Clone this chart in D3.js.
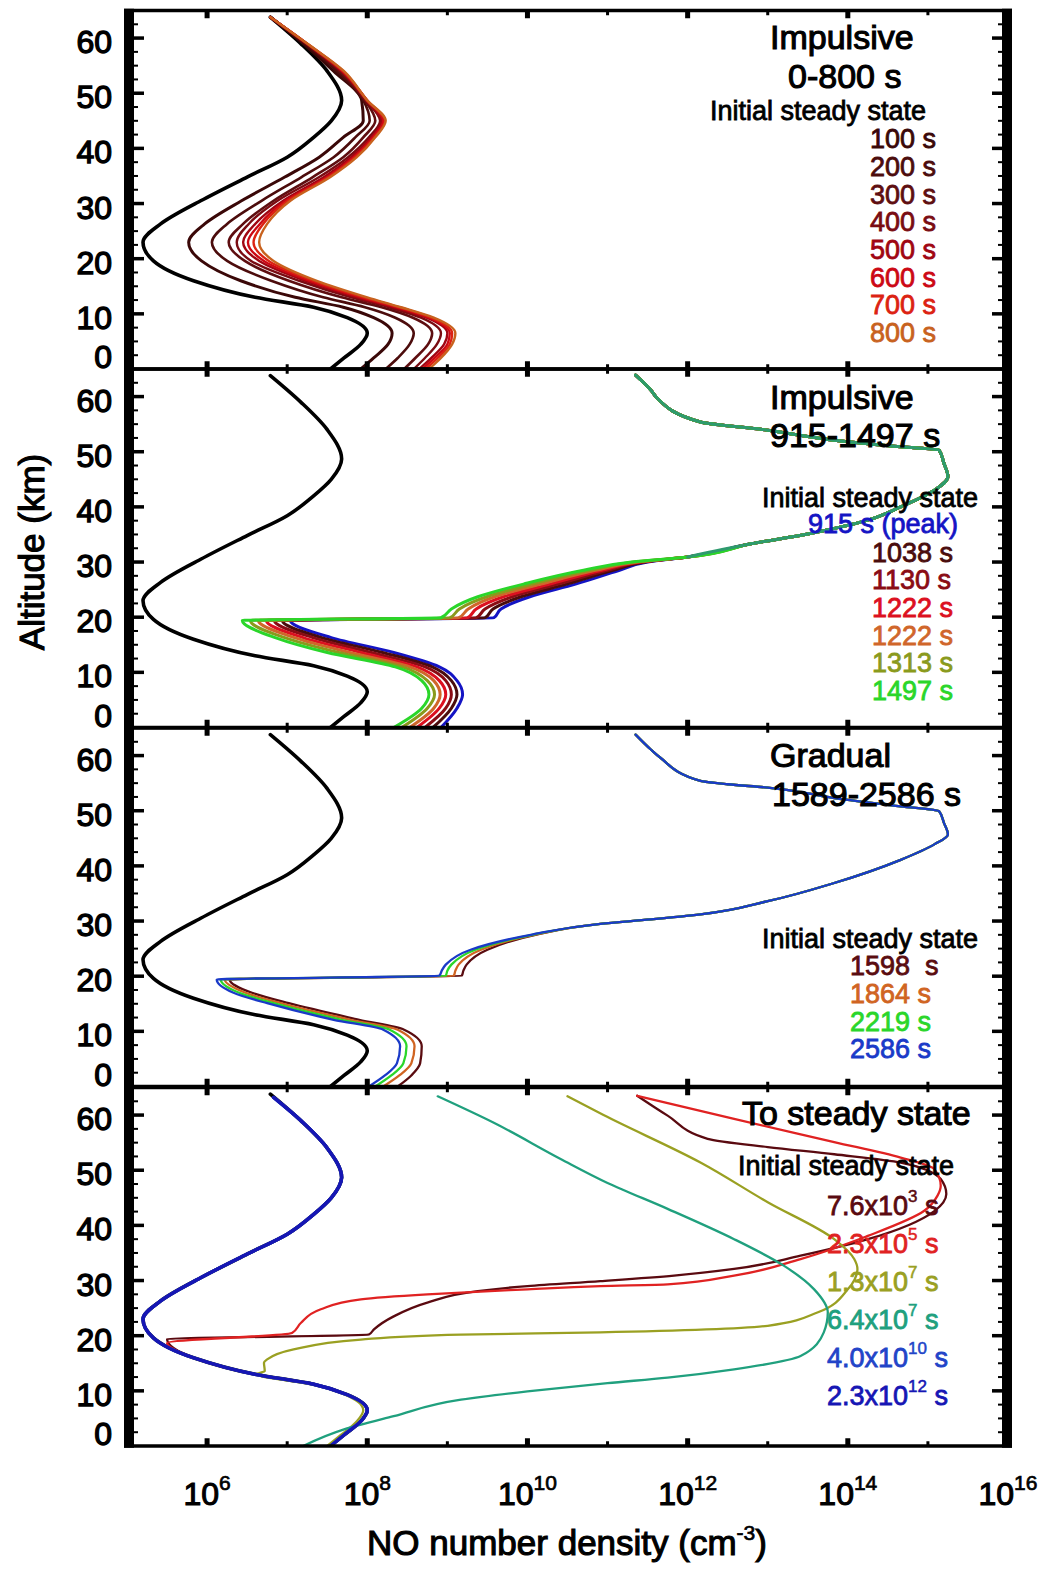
<!DOCTYPE html>
<html>
<head>
<meta charset="utf-8">
<script src="https://cdn.jsdelivr.net/npm/d3@7"></script>
<style>
  body { margin: 0; background: #fff; }
  text { font-family: "Liberation Sans", Arial, Helvetica, sans-serif; white-space: pre; }
</style>
</head>
<body>
<svg id="chart" width="1046" height="1569"></svg>
<script>

//
// data: altitude (km) and log10 of NO number density (cm^-3)
//

const xTickExps = [6, 8, 10, 12, 14, 16]
const yTickLabels = [0, 10, 20, 30, 40, 50, 60]

// initial steady state, same in every panel
const alt1 = [0, 2, 4.5, 6.5, 9.3, 11.2, 13, 16, 19.6, 23, 26.3, 30.5, 34.8, 38.4, 42, 45, 48.7, 54, 59, 63.8]
const initialState = [7.54, 7.71, 7.92, 8.0, 7.75, 7.33, 6.6, 5.83, 5.33, 5.2, 5.42, 5.92, 6.5, 7.0, 7.33, 7.55, 7.68, 7.5, 7.17, 6.79]

// panel 1: impulsive 0-800 s (on alt1)
const p1Labels = ['100 s', '200 s', '300 s', '400 s', '500 s', '600 s', '700 s', '800 s']
const t100 = [7.92, 8.08, 8.26, 8.31, 8.08, 7.7, 7.1, 6.42, 5.93, 5.77, 5.97, 6.43, 6.97, 7.4, 7.7, 7.95, 7.93, 7.58, 7.2, 6.79]
const t200 = [8.23, 8.38, 8.53, 8.58, 8.35, 7.97, 7.45, 6.8, 6.25, 6.06, 6.25, 6.68, 7.18, 7.58, 7.85, 8.03, 7.95, 7.62, 7.22, 6.79]
const t300 = [8.46, 8.6, 8.76, 8.81, 8.57, 8.18, 7.68, 7.02, 6.47, 6.27, 6.45, 6.83, 7.32, 7.7, 7.95, 8.1, 7.97, 7.65, 7.23, 6.79]
const t400 = [8.58, 8.72, 8.87, 8.92, 8.67, 8.27, 7.8, 7.15, 6.55, 6.37, 6.52, 6.88, 7.4, 7.76, 8.02, 8.16, 7.98, 7.67, 7.24, 6.79]
const t500 = [8.65, 8.8, 8.96, 9.0, 8.74, 8.33, 7.87, 7.23, 6.65, 6.45, 6.6, 6.95, 7.46, 7.8, 8.05, 8.18, 7.99, 7.68, 7.24, 6.79]
const t600 = [8.69, 8.84, 9.0, 9.03, 8.77, 8.37, 7.92, 7.28, 6.71, 6.51, 6.66, 6.98, 7.5, 7.83, 8.07, 8.2, 8.0, 7.69, 7.25, 6.79]
const t700 = [8.73, 8.88, 9.03, 9.06, 8.8, 8.4, 7.96, 7.33, 6.77, 6.58, 6.7, 7.01, 7.52, 7.85, 8.09, 8.22, 8.0, 7.7, 7.25, 6.79]
const t800 = [8.77, 8.92, 9.06, 9.1, 8.83, 8.42, 8.0, 7.37, 6.83, 6.65, 6.75, 7.04, 7.54, 7.87, 8.1, 8.23, 8.0, 7.71, 7.25, 6.79]

// panel 2: impulsive 915-1497 s
const p2Labels = ['915 s (peak)', '1038 s', '1130 s', '1222 s', '1222 s', '1313 s', '1497 s']
const p2LowAlt = [0, 3.5, 6, 8.5, 11, 13.6, 16.3, 19.4]
const p2UpAlt = [19.9, 21.5, 23.7, 26, 28.5, 30]
const p2TopAlt = [30.9, 33.3, 35.1, 37.6, 40, 43, 45.5, 47.9, 50.3, 50.9, 52.1, 53.9, 55.4, 59.7, 61.2, 63.9]
const p2TopVal = [12.0, 12.79, 13.5, 14.25, 14.66, 15.08, 15.25, 15.2, 15.14, 14.66, 13.83, 13.0, 12.16, 11.62, 11.54, 11.35]
const p2Low = [
  [8.92, 9.12, 9.19, 9.12, 8.9, 8.33, 7.55, 7.04],
  [8.82, 9.05, 9.12, 9.05, 8.81, 8.19, 7.43, 6.94],
  [8.72, 8.98, 9.05, 8.98, 8.72, 8.05, 7.32, 6.84],
  [8.62, 8.9, 8.98, 8.9, 8.62, 7.92, 7.2, 6.74],
  [8.53, 8.83, 8.91, 8.83, 8.53, 7.78, 7.09, 6.64],
  [8.43, 8.75, 8.84, 8.75, 8.44, 7.64, 6.97, 6.54],
  [8.33, 8.68, 8.77, 8.68, 8.35, 7.5, 6.85, 6.44]
]
const p2Up = [
  [9.58, 9.67, 10.03, 10.6, 11.15, 11.5],
  [9.47, 9.57, 9.92, 10.49, 11.07, 11.47],
  [9.36, 9.47, 9.81, 10.38, 11.0, 11.43],
  [9.25, 9.36, 9.7, 10.28, 10.93, 11.4],
  [9.14, 9.26, 9.59, 10.17, 10.85, 11.37],
  [9.03, 9.15, 9.49, 10.06, 10.78, 11.33],
  [8.92, 9.05, 9.38, 9.95, 10.7, 11.3]
]

// panel 3: gradual 1589-2586 s
const p3Labels = ['1598  s', '1864 s', '2219 s', '2586 s']
const p3LowAlt = [0, 2, 4.2, 7.3, 10.3, 12.1, 15.1, 17, 19.4]
const p3UpAlt = [20.1, 21, 22.1, 24.8, 27.5]
const p3TopAlt = [29.5, 30.3, 31.2, 33.6, 36.9, 41.1, 43.9, 45.7, 47.8, 49.9, 50.8, 52.3, 54.2, 54.8, 55.4, 59.6, 61.1, 63.8]
const p3TopVal = [10.91, 11.54, 12.16, 13.0, 13.83, 14.66, 15.08, 15.25, 15.2, 15.14, 14.66, 13.83, 13.0, 12.5, 12.16, 11.66, 11.54, 11.35]
const p3Low = [
  [8.38, 8.55, 8.66, 8.68, 8.46, 7.9, 7.02, 6.56, 6.28],
  [8.2, 8.4, 8.55, 8.59, 8.38, 7.79, 6.92, 6.48, 6.22],
  [8.1, 8.3, 8.45, 8.49, 8.28, 7.68, 6.83, 6.4, 6.17],
  [8.02, 8.22, 8.37, 8.41, 8.2, 7.58, 6.75, 6.33, 6.12]
]
const p3Up = [
  [9.18, 9.2, 9.24, 9.5, 10.1],
  [9.08, 9.1, 9.14, 9.42, 10.08],
  [8.98, 9.0, 9.05, 9.35, 10.06],
  [8.9, 8.93, 8.98, 9.29, 10.04]
]

// panel 4: to steady state
const p4Labels = [['7.6x10', '3'], ['2.3x10', '5'], ['1.3x10', '7'], ['6.4x10', '7'], ['4.0x10', '10'], ['2.3x10', '12']]
const brownAlt = [19.4, 20.2, 21.1, 23.5, 26.0, 28.1, 29.0, 29.9, 30.9, 32.1, 34.5, 37.5, 42.6, 45.7, 48.4, 51.4, 52.9, 54.2, 55.7, 59.9, 63.5]
const brownVal = [5.5, 8.02, 8.08, 8.33, 8.75, 9.38, 10.0, 10.91, 11.83, 12.58, 13.41, 14.25, 15.08, 15.23, 15.16, 14.66, 13.83, 13.0, 12.25, 11.75, 11.37]
const redAlt = [18.7, 20.5, 22.3, 24.8, 26.6, 27.5, 28.4, 29.0, 29.3, 30.9, 33.9, 38.1, 42.6, 45.4, 47.2, 50.2, 52.3, 55.1, 59.3, 63.5]
const redVal = [5.5, 7.06, 7.17, 7.42, 7.92, 8.75, 10.0, 10.91, 11.75, 12.58, 13.41, 14.25, 14.95, 15.12, 15.16, 15.08, 14.66, 13.83, 12.58, 11.37]
const oliveAlt = [0, 2, 4.5, 6.5, 9.3, 11.2, 13, 13.6, 15.1, 15.7, 17.5, 19.3, 20.2, 20.6, 21.8, 24.2, 28.4, 32.1, 33.9, 37.5, 44.2, 51.4, 60.0, 63.4]
const oliveVal = [7.5, 7.67, 7.87, 7.95, 7.72, 7.3, 6.62, 6.72, 6.71, 6.75, 7.08, 7.92, 9.17, 10.91, 13.0, 13.62, 14.0, 14.12, 14.08, 13.83, 13.0, 12.16, 10.95, 10.5]
const tealAlt = [0, 3.0, 5.4, 8.4, 9.9, 11.4, 12.4, 13.9, 16.3, 20.6, 24.2, 28.4, 32.7, 37.5, 43.0, 47.7, 52.0, 58.6, 63.4]
const tealVal = [7.2, 7.71, 8.33, 9.17, 10.0, 11.0, 11.75, 12.58, 13.41, 13.7, 13.75, 13.58, 13.2, 12.58, 11.75, 11.0, 10.42, 9.58, 8.88]
const finalAlt = [0, 2, 4.5, 6.5, 9.3, 11.2, 13, 16, 19.6, 23, 26.3, 30.5, 34.8, 38.4, 42, 45, 48.7, 54, 59, 63.2]
const final40 = [7.54, 7.71, 7.92, 8.0, 7.75, 7.33, 6.6, 5.83, 5.33, 5.2, 5.42, 5.92, 6.5, 7.0, 7.33, 7.55, 7.68, 7.5, 7.17, 6.83]
const final23 = [7.54, 7.71, 7.92, 8.0, 7.75, 7.33, 6.6, 5.83, 5.33, 5.2, 5.42, 5.92, 6.5, 7.0, 7.33, 7.55, 7.68, 7.5, 7.17, 6.83]

//
// styles
//

const p1Colors = ['#3a0808', '#4c0c0c', '#5e0e10', '#7a0c12', '#a00612', '#cc0814', '#dc2212', '#c8621e']
const p1Widths = [3, 2.6, 2.6, 2.4, 2.4, 2.4, 2.4, 2.4]
const p2Colors = ['#1414c4', '#4a0c0c', '#8a0c14', '#dc1020', '#d0662a', '#8a9a1c', '#2ad62a']
const p2Merged = '#2e9a6e'
const p3Colors = ['#5a0c10', '#d06422', '#2ad62a', '#1a3ac8']
const p4Colors = ['#5a0a10', '#e02222', '#9aa022', '#20a07e', '#2244c8', '#1616b4']

//
// layout
//

const svg = d3.select('#chart')
const x = d3.scaleLog().domain([1e5, 1e16]).range([127, 1008])
const panelTop = [10.5, 369, 728, 1087.5]
const panelH = 358.5
const left = 124, right = 1012

const zip = (a, v) => a.map((d, i) => [d, v[i]])

function panel(i) {
  const top = panelTop[i], bottom = top + panelH
  const y = d3.scaleLinear().domain([0, 65]).range([bottom, top])
  const g = svg.append('g')

  svg.append('clipPath').attr('id', 'clip' + i)
    .append('rect')
      .attr('x', 127).attr('y', top)
      .attr('width', 881).attr('height', panelH)

  const line = d3.line()
    .x(d => x(Math.pow(10, d[1])))
    .y(d => y(d[0]))
    .curve(d3.curveMonotoneY)

  // y tick labels
  g.selectAll('.ylab').data(yTickLabels).enter()
    .append('text')
      .attr('x', 112)
      .attr('y', d => d === 0 ? y(0) - 1 : y(d) + 15)
      .attr('text-anchor', 'end')
      .attr('font-size', 32)
      .attr('stroke', '#000').attr('stroke-width', 1.3)
      .text(d => d)

  const curves = g.append('g').attr('clip-path', 'url(#clip' + i + ')')
  const draw = (pts, color, w) => {
    pts = pts.slice().sort((a, b) => b[0] - a[0])
    curves.append('path')
      .attr('d', line(pts))
      .attr('fill', 'none')
      .attr('stroke', color)
      .attr('stroke-width', w)
      .attr('stroke-linejoin', 'round')
      .attr('stroke-linecap', 'round')
  }

  // frame
  const frame = g.append('g')
  frame.append('line').attr('x1', left).attr('x2', right).attr('y1', top).attr('y2', top)
    .attr('stroke', '#000').attr('stroke-width', 3.5)
  frame.append('line').attr('x1', left).attr('x2', right).attr('y1', bottom).attr('y2', bottom)
    .attr('stroke', '#000').attr('stroke-width', 3.5)
  frame.append('rect').attr('x', left).attr('y', top - 1.75).attr('width', 10).attr('height', panelH + 3.5)
  frame.append('rect').attr('x', right - 10).attr('y', top - 1.75).attr('width', 10).attr('height', panelH + 3.5)

  const yMinor = d3.range(2.5, 65, 2.5).filter(v => v % 10 !== 0)
  const yMajor = d3.range(10, 61, 10)
  yMajor.forEach(v => {
    frame.append('rect').attr('x', left + 10).attr('y', y(v) - 1.75).attr('width', 10).attr('height', 3.5)
    frame.append('rect').attr('x', right - 20).attr('y', y(v) - 1.75).attr('width', 10).attr('height', 3.5)
  })
  yMinor.forEach(v => {
    frame.append('rect').attr('x', left + 10).attr('y', y(v) - 1).attr('width', 4).attr('height', 2)
    frame.append('rect').attr('x', right - 14).attr('y', y(v) - 1).attr('width', 4).attr('height', 2)
  })
  d3.range(6, 16).forEach(e => {
    const major = e % 2 === 0
    const w = major ? 5 : 3, len = major ? 6 : 3
    const cx = x(Math.pow(10, e))
    frame.append('rect').attr('x', cx - w / 2).attr('y', top).attr('width', w).attr('height', len + 1.75)
    frame.append('rect').attr('x', cx - w / 2).attr('y', bottom - len - 1.75).attr('width', w).attr('height', len + 1.75)
  })

  return { g, y, draw, top }
}

function legendText(g, tx, ty, size, color, str) {
  return g.append('text')
    .attr('x', tx).attr('y', ty)
    .attr('font-size', size)
    .attr('fill', color)
    .attr('stroke', color)
    .attr('stroke-width', size > 30 ? 1.1 : 0.8)
    .text(str)
}

//
// panel 1
//

{
  const p = panel(0)
  legendText(p.g, 770, 49.3, 34, '#000', 'Impulsive')
  legendText(p.g, 788, 88.3, 34, '#000', '0-800 s')
  legendText(p.g, 710, 120, 27, '#000', 'Initial steady state')
  p1Labels.forEach((d, i) => legendText(p.g, 870, 148.3 + i * 27.65, 27, p1Colors[i], d))

  p.draw(zip(alt1, initialState), '#000', 3.6)
  const series = [t100, t200, t300, t400, t500, t600, t700, t800]
  series.forEach((s, i) => p.draw(zip(alt1, s), p1Colors[i], p1Widths[i]))
}

//
// panel 2
//

{
  const p = panel(1)
  legendText(p.g, 770, 409.3, 34, '#000', 'Impulsive')
  legendText(p.g, 770, 447.3, 34, '#000', '915-1497 s')
  legendText(p.g, 762, 506.7, 27, '#000', 'Initial steady state')
  legendText(p.g, 808, 533.3, 27, p2Colors[0], p2Labels[0])
  p2Labels.slice(1).forEach((d, i) => legendText(p.g, 872, 561.7 + i * 27.65, 27, p2Colors[i + 1], d))

  p.draw(zip(alt1, initialState), '#000', 3.6)
  p2Low.forEach((low, i) => {
    const pts = zip(p2LowAlt, low).concat(zip(p2UpAlt, p2Up[i]), zip(p2TopAlt, p2TopVal))
    p.draw(pts, p2Colors[i], 3)
  })
  // where all the curves coincide the overlap reads blue-green
  p.draw(zip(p2TopAlt, p2TopVal), p2Merged, 3)
}

//
// panel 3
//

{
  const p = panel(2)
  legendText(p.g, 770, 766.7, 34, '#000', 'Gradual')
  legendText(p.g, 772, 806, 34, '#000', '1589-2586 s')
  legendText(p.g, 762, 948.3, 27, '#000', 'Initial steady state')
  p3Labels.forEach((d, i) => legendText(p.g, 850, 975 + i * 27.75, 27, p3Colors[i], d))

  p.draw(zip(alt1, initialState), '#000', 3.6)
  p3Low.forEach((low, i) => {
    const pts = zip(p3LowAlt, low).concat(zip(p3UpAlt, p3Up[i]), zip(p3TopAlt, p3TopVal))
    p.draw(pts, p3Colors[i], 2.3)
  })
}

//
// panel 4
//

{
  const p = panel(3)
  legendText(p.g, 742, 1125, 34, '#000', 'To steady state')
  legendText(p.g, 738, 1175, 27, '#000', 'Initial steady state')
  p4Labels.forEach((d, i) => {
    const t = legendText(p.g, 827, 1215 + i * 38, 27, p4Colors[i], d[0])
    t.append('tspan').attr('dy', -13).attr('font-size', 17).attr('stroke-width', 0.5).text(d[1])
    t.append('tspan').attr('dy', 13).text(' s')
  })

  const base = zip(alt1, initialState)
  p.draw(base, '#000', 3.6)
  p.draw(zip(brownAlt, brownVal).concat(base.filter(d => d[0] < brownAlt[0])), p4Colors[0], 2.3)
  p.draw(zip(redAlt, redVal).concat(base.filter(d => d[0] < redAlt[0])), p4Colors[1], 2.3)
  p.draw(zip(oliveAlt, oliveVal), p4Colors[2], 2.3)
  p.draw(zip(tealAlt, tealVal), p4Colors[3], 2.3)
  p.draw(zip(finalAlt, final40), p4Colors[4], 3.4)
  p.draw(zip(finalAlt, final23), p4Colors[5], 3.4)
}

//
// axes titles
//

const xl = svg.append('g')
xTickExps.forEach(e => {
  const t = xl.append('text')
    .attr('x', x(Math.pow(10, e)))
    .attr('y', 1505)
    .attr('text-anchor', 'middle')
    .attr('font-size', 32)
    .attr('stroke', '#000').attr('stroke-width', 1.1)
    .text('10')
  t.append('tspan').attr('dy', -15).attr('font-size', 21).attr('stroke-width', 0.7).text(e)
})

const xt = svg.append('text')
  .attr('x', 567).attr('y', 1555)
  .attr('text-anchor', 'middle')
  .attr('font-size', 35)
  .attr('stroke', '#000').attr('stroke-width', 1.1)
  .text('NO number density (cm')
xt.append('tspan').attr('dy', -15).attr('font-size', 21).attr('stroke-width', 0.7).text('-3')
xt.append('tspan').attr('dy', 15).text(')')

svg.append('text')
  .attr('transform', 'translate(44,552) rotate(-90)')
  .attr('text-anchor', 'middle')
  .attr('font-size', 35)
  .attr('stroke', '#000').attr('stroke-width', 1.1)
  .text('Altitude (km)')

</script>
</body>
</html>
